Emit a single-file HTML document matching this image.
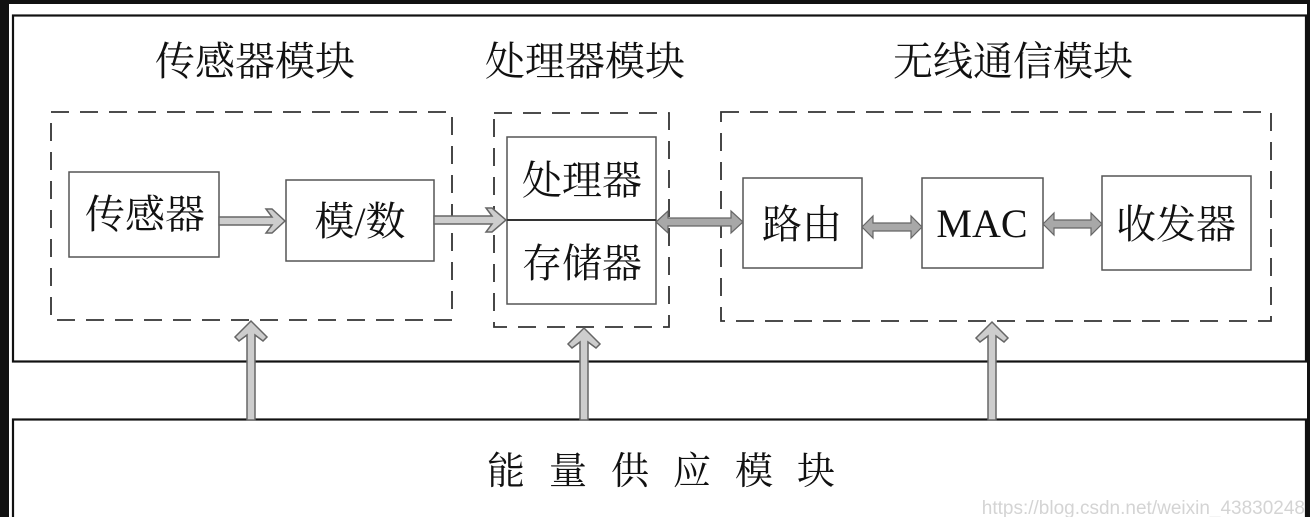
<!DOCTYPE html>
<html><head><meta charset="utf-8"><style>
html,body{margin:0;padding:0;background:#fff;width:1310px;height:517px;overflow:hidden}
svg{display:block}
text{font-family:"Liberation Serif","Noto Serif CJK SC","Noto Sans CJK SC",serif;fill:#111}
</style></head><body>
<svg width="1310" height="517" viewBox="0 0 1310 517" xmlns="http://www.w3.org/2000/svg">
<rect x="0" y="0" width="1310" height="4" fill="#111"/>
<rect x="0" y="0" width="9" height="517" fill="#111"/>
<rect x="1307" y="0" width="3" height="517" fill="#111"/>
<rect x="13" y="15.5" width="1293" height="346" fill="#fff" stroke="#111" stroke-width="2.2"/>
<rect x="13" y="419.5" width="1293" height="110" fill="#fff" stroke="#111" stroke-width="2.2"/>
<text x="255" y="75" font-size="40" text-anchor="middle">传感器模块</text>
<text x="585" y="75" font-size="40" text-anchor="middle">处理器模块</text>
<text x="1013" y="75" font-size="40" text-anchor="middle">无线通信模块</text>
<g fill="none" stroke="#333" stroke-width="1.8" stroke-dasharray="18,11">
<rect x="51" y="112" width="401" height="208"/>
<rect x="494" y="113" width="175" height="214"/>
<rect x="721" y="112" width="550" height="209"/>
</g>
<g fill="#fff" stroke="#555" stroke-width="1.5">
<rect x="69" y="172" width="150" height="85"/>
<rect x="286" y="180" width="148" height="81"/>
<rect x="507" y="137" width="149" height="83"/>
<rect x="507" y="220" width="149" height="84"/>
<rect x="743" y="178" width="119" height="90"/>
<rect x="922" y="178" width="121" height="90"/>
<rect x="1102" y="176" width="149" height="94"/>
</g>
<line x1="507" y1="220" x2="656" y2="220" stroke="#333" stroke-width="2"/>
<g font-size="40" text-anchor="middle">
<text x="145" y="228">传感器</text>
<text x="360" y="235">模/数</text>
<text x="582" y="194">处理器</text>
<text x="582" y="277">存储器</text>
<text x="802" y="238">路由</text>
<text x="982" y="237">MAC</text>
<text x="1176" y="238">收发器</text>
</g>
<g fill="#cdcdcd" stroke="#666" stroke-width="1.5">
<polygon points="219,217 272,217 266,209 272,209 285,221 272,233 266,233 272,225 219,225"/>
<polygon points="434,216 492,216 486,208 492,208 506,220 492,232 486,232 492,224 434,224"/>
</g>
<g fill="#a8a8a8" stroke="#666" stroke-width="1.2">
<polygon points="656,222 668,211 668,218 731,218 731,211 743,222 731,233 731,226 668,226 668,233"/>
<polygon points="862,227 873,216 873,223 911,223 911,216 922,227 911,238 911,231 873,231 873,238"/>
<polygon points="1043,224 1054,213 1054,220 1091,220 1091,213 1102,224 1091,235 1091,228 1054,228 1054,235"/>
</g>
<g fill="#cdcdcd" stroke="#666" stroke-width="1.5">
<polygon points="247,420 247,335 239,341 235,337 251,321 267,337 263,341 255,335 255,420"/>
<polygon points="580,420 580,342 572,348 568,344 584,328 600,344 596,348 588,342 588,420"/>
<polygon points="988,420 988,336 980,342 976,338 992,322 1008,338 1004,342 996,336 996,420"/>
</g>
<text x="673" y="484" font-size="38" text-anchor="middle" letter-spacing="24">能量供应模块</text>
<text x="1305" y="514" font-size="19" text-anchor="end" style="fill:#d4d4d4;font-family:'Liberation Sans',sans-serif">https://blog.csdn.net/weixin_43830248</text>
</svg>
</body></html>
